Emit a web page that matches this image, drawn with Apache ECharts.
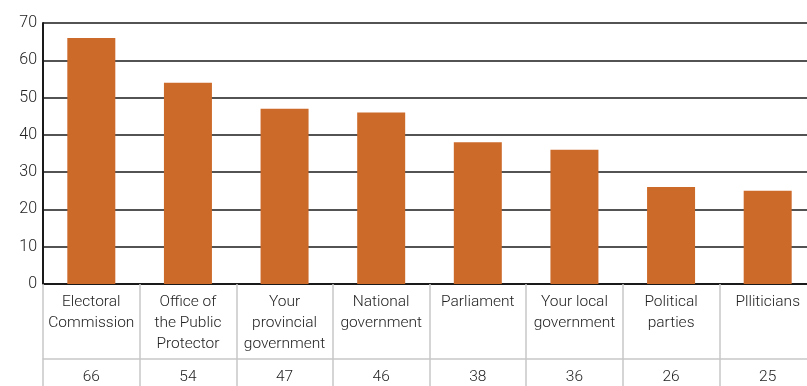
<!DOCTYPE html>
<html>
<head>
<meta charset="utf-8">
<script src="https://cdn.jsdelivr.net/npm/echarts@6/dist/echarts.min.js"></script>
<style>
html,body{margin:0;padding:0;background:#fff;}
#chart{width:807px;height:386px;}
</style>
</head>
<body>
<div id="chart"></div>
<script>
const categories = ["Electoral\nCommission", "Office of\nthe Public\nProtector", "Your\nprovincial\ngovernment", "National\ngovernment", "Parliament", "Your local\ngovernment", "Political\nparties", "Plliticians"];
const values = [66, 54, 47, 46, 38, 36, 26, 25];
const yTicks = [0, 10, 20, 30, 40, 50, 60, 70];

const chart = echarts.init(document.getElementById('chart'));
const font = 'Roboto, "Liberation Sans", sans-serif';
chart.setOption({
  animation: false,
  grid: {left: 43, top: 23, width: 773, height: 261, containLabel: false, outerBoundsMode: 'none'},
  xAxis: [{
    type: 'category',
    data: categories,
    position: 'bottom',
    axisLine: {show: true, lineStyle: {color: '#1a1a1a', width: 2}},
    axisTick: {show: true, alignWithLabel: false, length: 102, lineStyle: {color: '#c8c8c8', width: 1.5}},
    axisLabel: {interval: 0, fontSize: 15.5, color: '#222', lineHeight: 21, margin: 8, fontFamily: font, fontWeight: 300}
  }, {
    type: 'category',
    data: values.map(String),
    position: 'bottom',
    offset: 75,
    axisLine: {show: true, lineStyle: {color: '#c8c8c8', width: 1.5}},
    axisTick: {show: false},
    axisLabel: {interval: 0, fontSize: 15.5, color: '#222', margin: 10, fontFamily: font, fontWeight: 300}
  }],
  yAxis: {
    type: 'value',
    min: yTicks[0],
    max: yTicks[yTicks.length - 1],
    interval: 10,
    axisLine: {show: true, lineStyle: {color: '#1a1a1a', width: 2}},
    axisTick: {show: false},
    splitLine: {show: true, lineStyle: {color: '#1a1a1a', width: 1.5}},
    axisLabel: {fontSize: 16, color: '#222', margin: 6, fontFamily: font, fontWeight: 300}
  },
  series: [{
    type: 'bar',
    data: values,
    xAxisIndex: 0,
    barWidth: 48,
    itemStyle: {color: '#CC6A2A'}
  }]
});
</script>
</body>
</html>
